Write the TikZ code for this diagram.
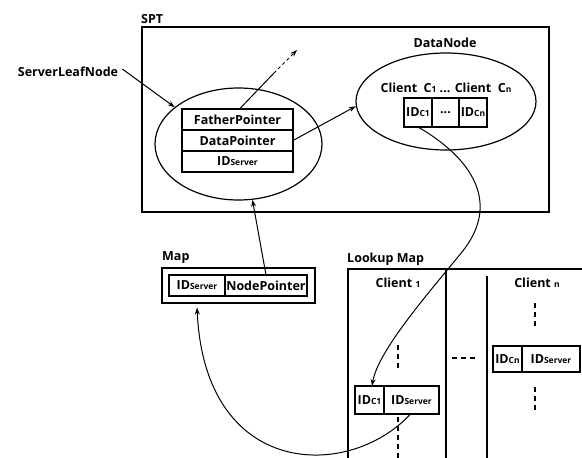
\documentclass[tikz,border=0pt]{standalone}
\usepackage{fontspec}
\setmainfont{Open Sans}
\usetikzlibrary{shapes.geometric,arrows.meta,positioning}
\newcommand{\subtxt}[1]{{\fontsize{8.5}{10}\selectfont #1}}
\tikzset{
  cell/.style={draw, line width=1.2pt, inner sep=0pt, outer sep=0pt, minimum height=21pt},
  oval/.style={draw, ellipse, line width=1.2pt, inner sep=0pt},
  lbl/.style={inner sep=0pt},
  link/.style={line width=1pt, -{Stealth[length=7pt,width=5pt]}},
  vdash/.style={line width=1.1pt, dash pattern=on 5pt off 4pt},
}
\begin{document}
\begin{tikzpicture}[x=1pt,y=-1pt,font=\bfseries\fontsize{12.5}{15}\selectfont]
    \useasboundingbox (0,0) rectangle (582,458);
    % SPT
    \draw[line width=1.3pt] (142,27) rectangle (549,212);
    \node[lbl,anchor=west] (spt) at (141,19) {SPT};
    \node[lbl] (sln) at (68,72) {ServerLeafNode};
    \node[oval, minimum width=167pt, minimum height=112pt] (leaf) at (238.5,144) {};
    \node[cell, minimum width=111pt] (fp) at (237.5,119.5) {FatherPointer};
    \node[cell, minimum width=111pt, below=0pt of fp] (dp) {DataPointer};
    \node[cell, minimum width=111pt, below=0pt of dp] (ids) {ID\subtxt{Server}};
    \node[lbl] (dnl) at (445,43) {DataNode};
    \node[oval, minimum width=180pt, minimum height=97pt] (data) at (446,101.5) {};
    \node[lbl] (clients) at (446,88) {Client\ \ C\subtxt{1} ... Client\ \ C\subtxt{n}};
    \node[cell, minimum width=28pt, minimum height=29pt] (dc1) at (418,112.5) {ID\subtxt{C1}};
    \node[cell, minimum width=27pt, minimum height=29pt, right=0pt of dc1] (dmid) {...};
    \node[cell, minimum width=28pt, minimum height=29pt, right=0pt of dmid] (dcn) {ID\subtxt{Cn}};
    % Map
    \node[lbl,anchor=west] (mapl) at (162,258) {Map};
    \node[draw, line width=1.2pt, inner sep=0pt, minimum width=153pt, minimum height=35pt] (map) at (238.5,285.5) {};
    \node[cell, minimum width=56pt] (mids) at (197,285.5) {ID\subtxt{Server}};
    \node[cell, minimum width=82pt, right=0pt of mids] (mnp) {NodePointer};
    % Lookup Map
    \node[lbl,anchor=west] (lml) at (347,259) {Lookup Map};
    \draw[line width=1.3pt] (348,458) -- (348,269) -- (582,269);
    \draw[line width=1.3pt] (446,269) -- (446,458);
    \draw[line width=1.3pt] (487,276) -- (487,458);
    \node[lbl] (col1) at (398,283) {Client \subtxt{1}};
    \node[lbl] (coln) at (537,283) {Client \subtxt{n}};
    \node[cell, minimum width=29pt, minimum height=28pt] (lc1a) at (369.5,400) {ID\subtxt{C1}};
    \node[cell, minimum width=55pt, minimum height=28pt, right=0pt of lc1a] (lc1b) {ID\subtxt{Server}};
    \node[cell, minimum width=29pt, minimum height=26pt] (lcna) at (507.5,359) {ID\subtxt{Cn}};
    \node[cell, minimum width=58pt, minimum height=26pt, right=0pt of lcna] (lcnb) {ID\subtxt{Server}};
    \draw[vdash] (398,345) -- (398,368);
    \draw[vdash] (398,417) -- (398,458);
    \draw[vdash] (535,303) -- (535,327);
    \draw[vdash] (535,387) -- (535,410);
    \draw[vdash] (452,358) -- (477,358);
    % pointers
    \coordinate (brk) at (274,73);
    \coordinate (up) at (297,50);
    \draw[line width=1pt] ([xshift=2pt]fp.north) -- (brk);
    \draw[link, dashed] (brk) -- (up);
    \draw[link] (sln.east) ++(4pt,3pt) -- (leaf.150);
    \draw[link] (dp.east) -- (data.183);
    \draw[link] (mnp.north) -- (leaf.-76);
    \draw[link] (dc1.south) .. controls (475,160) and (500,205) .. (462,252)
        .. controls (432,289) and (378,350) .. ([xshift=2.5pt]lc1a.north);
    \draw[link] ([xshift=-1pt]lc1b.south) .. controls (350,480) and (205,480) .. ([yshift=-4pt]mids.south |- map.south);
\end{tikzpicture}
\end{document}
